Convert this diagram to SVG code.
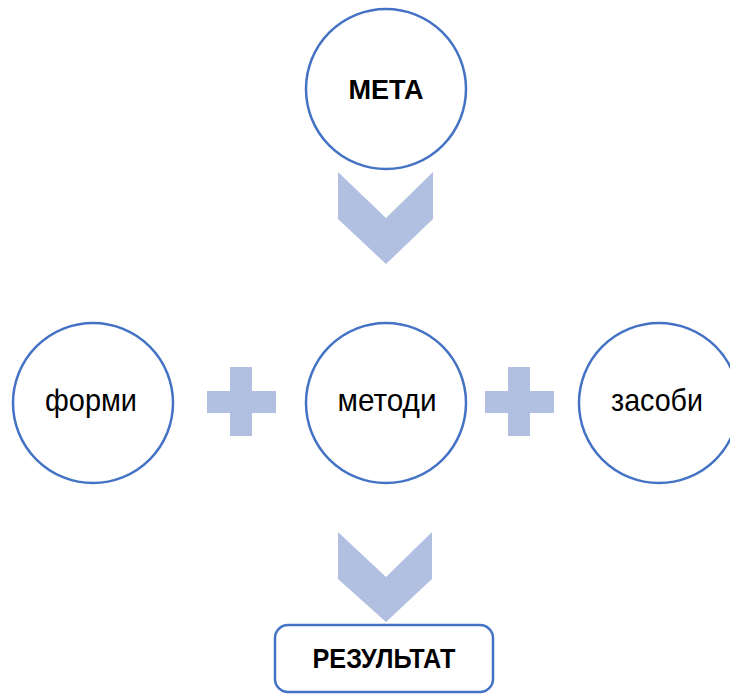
<svg xmlns="http://www.w3.org/2000/svg" width="730" height="694" viewBox="0 0 730 694">
<style>
.node{fill:#ffffff;stroke:#4472C4;stroke-width:2.5}
.conn{fill:#B1BFE0;stroke:none}
.cap{font-family:"Liberation Sans",Arial,sans-serif;font-weight:bold;font-size:28px;fill:#000;text-anchor:middle}
.low{font-family:"Liberation Sans",Arial,sans-serif;font-size:32px;fill:#000;text-anchor:middle}
</style>
<rect width="730" height="694" fill="#ffffff"/>
<g id="connectors">
<polygon class="conn" points="338,172 386,218 433,172 433,219 386,264 338,219"/>
<polygon class="conn" points="338,532 386,577 432,532 432,579 386,622 338,579"/>
<path class="conn" d="M230,367 H252 V391 H276 V413 H252 V436 H230 V413 H207 V391 H230 Z"/>
<path class="conn" d="M508,367 H530 V391 H554 V413 H530 V436 H508 V413 H485 V391 H508 Z"/>
</g>
<g id="meta">
<circle class="node" cx="386" cy="89" r="80"/>
<text class="cap" x="386" y="99" textLength="75" lengthAdjust="spacingAndGlyphs">МЕТА</text>
</g>
<g id="formy">
<circle class="node" cx="93" cy="403" r="80"/>
<text class="low" x="91" y="411" textLength="92" lengthAdjust="spacingAndGlyphs">форми</text>
</g>
<g id="metody">
<circle class="node" cx="386" cy="403" r="80"/>
<text class="low" x="387" y="411" textLength="99" lengthAdjust="spacingAndGlyphs">методи</text>
</g>
<g id="zasoby">
<circle class="node" cx="659" cy="403" r="80"/>
<text class="low" x="657" y="411" textLength="92" lengthAdjust="spacingAndGlyphs">засоби</text>
</g>
<g id="rezultat">
<rect class="node" x="275" y="625" width="218" height="67" rx="13"/>
<text class="cap" x="384" y="668" textLength="143" lengthAdjust="spacingAndGlyphs">РЕЗУЛЬТАТ</text>
</g>
</svg>
